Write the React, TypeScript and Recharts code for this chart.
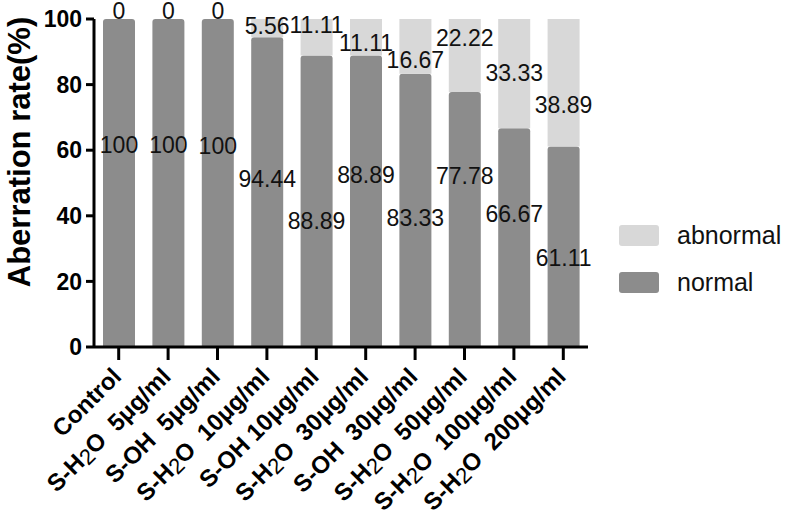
import React from "react";
import { BarChart, Bar, XAxis, YAxis, Legend, LabelList } from "recharts";

const groups = [
  "Control",
  "S-H2O  5μg/ml",
  "S-OH  5μg/ml",
  "S-H2O  10μg/ml",
  "S-OH 10μg/ml",
  "S-H2O  30μg/ml",
  "S-OH  30μg/ml",
  "S-H2O  50μg/ml",
  "S-H2O  100μg/ml",
  "S-H2O  200μg/ml",
];
const normal = [100, 100, 100, 94.44, 88.89, 88.89, 83.33, 77.78, 66.67, 61.11];
const abnormal = [0, 0, 0, 5.56, 11.11, 11.11, 16.67, 22.22, 33.33, 38.89];
const yTicks = [0, 20, 40, 60, 80, 100];

const data = groups.map((group, i) => ({ group, normal: normal[i], abnormal: abnormal[i] }));

const FONT = "'Liberation Sans', Arial, sans-serif";
const DARK = "#8c8c8c";
const LIGHT = "#d8d8d8";

// the source figure has hand-placed value labels; nudge (px) from the top of each segment
const normalLabelDy = [126, 126, 127, 142, 166, 120, 144, 84, 86, 111];
const abnormalLabelDy = [-8, -8, -8, 7, 6, 24, 41, 19, 54, 86];

function ValueText({ x, y, value }: { x: number; y: number; value: number }) {
  return (
    <text x={x} y={y} textAnchor="middle" dominantBaseline="central" fontFamily={FONT} fontSize={23} fill="#111">
      {String(value)}
    </text>
  );
}

// zero-height segments get no label entry, so both labels hang off the (never empty) normal segment
function normalLabel(props: any) {
  const { x, y, width, value, index } = props;
  return <ValueText x={x + width / 2} y={y + normalLabelDy[index]} value={value} />;
}

function abnormalLabel(props: any) {
  const { x, y, width, height, value, index } = props;
  const top = y - (height / normal[index]) * value;
  return <ValueText x={x + width / 2} y={top + abnormalLabelDy[index]} value={value} />;
}

function XTick({ x, y, payload }: any) {
  const s: string = payload.value;
  const k = s.indexOf("H2O");
  const ax = x + 4;
  const ay = y + 16;
  return (
    <text
      x={ax}
      y={ay}
      textAnchor="end"
      transform={`rotate(-45, ${ax}, ${ay})`}
      fontFamily={FONT}
      fontSize={24}
      fontWeight="bold"
      fill="#000"
      style={{ whiteSpace: "pre" }}
    >
      {k < 0 ? (
        s
      ) : (
        <>
          <tspan>{s.slice(0, k + 1)}</tspan>
          <tspan fontWeight="normal" fontSize={22} dy={3}>
            2
          </tspan>
          <tspan dy={-3}>{s.slice(k + 2)}</tspan>
        </>
      )}
    </text>
  );
}

function YTitle({ viewBox }: any) {
  const cx = 19;
  const cy = viewBox.y + viewBox.height / 2 - 31;
  return (
    <text
      x={cx}
      y={cy}
      transform={`rotate(-90, ${cx}, ${cy})`}
      textAnchor="middle"
      dominantBaseline="central"
      fontFamily={FONT}
      fontSize={31}
      fontWeight="bold"
      fill="#000"
    >
      Aberration rate(%)
    </text>
  );
}

function LegendBox() {
  const items = [
    { name: "abnormal", color: LIGHT },
    { name: "normal", color: DARK },
  ];
  return (
    <div style={{ fontFamily: FONT, fontSize: 25, color: "#111" }}>
      {items.map((it) => (
        <div key={it.name} style={{ display: "flex", alignItems: "center", height: 47 }}>
          <div style={{ width: 40, height: 21, borderRadius: 3, background: it.color, marginRight: 18 }} />
          <span>{it.name}</span>
        </div>
      ))}
    </div>
  );
}

export default function App() {
  return (
    <div style={{ position: "absolute", left: 0, top: 0, width: 787, height: 517, background: "#fff" }}>
      <BarChart width={787} height={517} data={data} margin={{ top: 19, right: 31, bottom: 0, left: 0 }}>
        <XAxis
          dataKey="group"
          height={170}
          interval={0}
          tickSize={13}
          axisLine={{ stroke: "#000", strokeWidth: 3 }}
          tickLine={{ stroke: "#000", strokeWidth: 3 }}
          tick={<XTick />}
        />
        <YAxis
          width={94}
          domain={[0, 100]}
          ticks={yTicks}
          tickSize={8}
          tickMargin={4}
          axisLine={{ stroke: "#000", strokeWidth: 3 }}
          tickLine={{ stroke: "#000", strokeWidth: 3 }}
          tick={{ fill: "#000", fontFamily: FONT, fontSize: 23, fontWeight: "bold" }}
          label={{ content: <YTitle /> }}
        />
        <Legend
          layout="vertical"
          align="right"
          verticalAlign="top"
          content={<LegendBox />}
          wrapperStyle={{ left: 619, top: 212, width: 168 }}
        />
        <Bar dataKey="normal" stackId="a" fill={DARK} barSize={32} radius={[3, 3, 0, 0]} isAnimationActive={false}>
          <LabelList dataKey="normal" content={normalLabel} />
          <LabelList dataKey="abnormal" content={abnormalLabel} />
        </Bar>
        <Bar dataKey="abnormal" stackId="a" fill={LIGHT} barSize={32} isAnimationActive={false} />
      </BarChart>
    </div>
  );
}
